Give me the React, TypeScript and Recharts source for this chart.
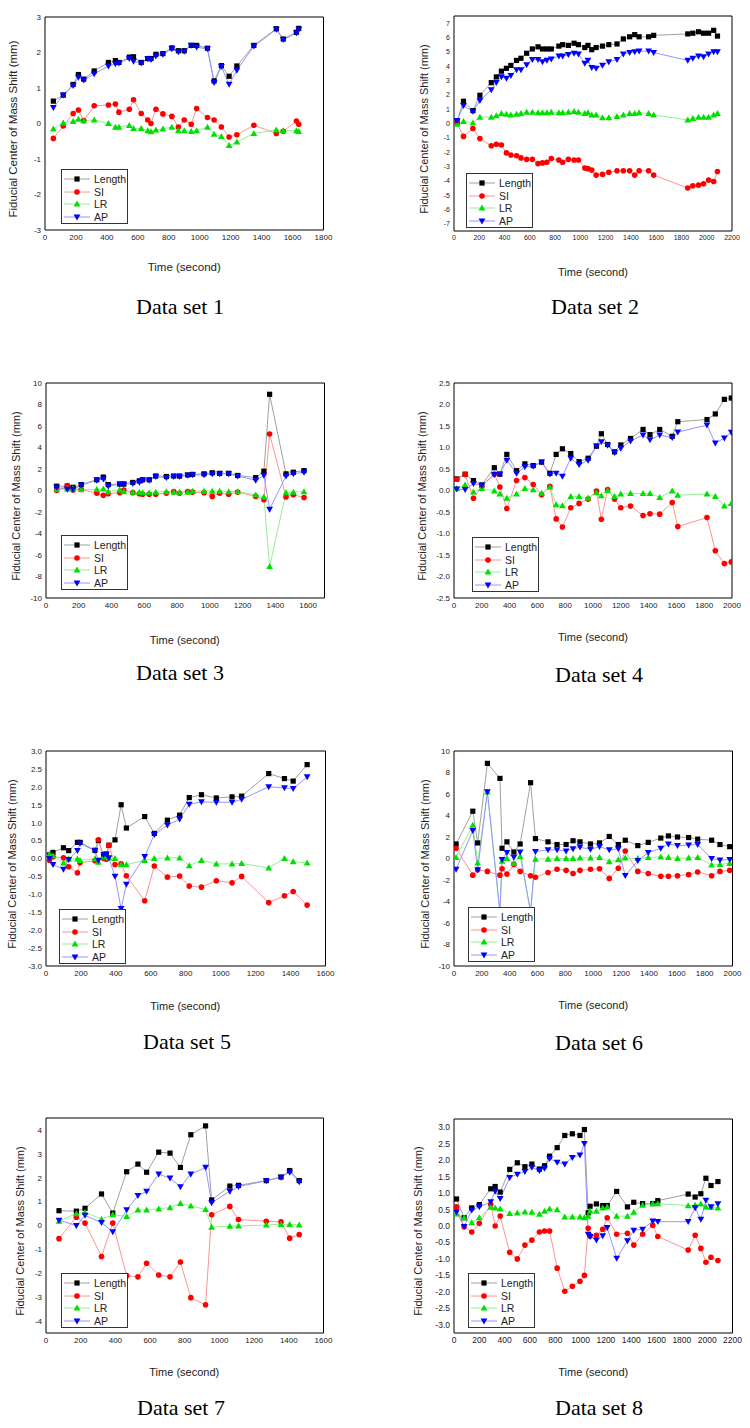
import React from 'react';
import { LineChart, Line, XAxis, YAxis } from 'recharts';

// ---- Data set 1 ----
const time1 = [54, 118, 182, 216, 250, 318, 410, 455, 478, 545, 572, 622, 664, 685, 717, 762, 820, 862, 900, 945, 980, 1050, 1093, 1140, 1190, 1240, 1350, 1495, 1540, 1625, 1640];
const length1 = [0.63, 0.8, 1.1, 1.38, 1.25, 1.48, 1.72, 1.77, 1.72, 1.87, 1.88, 1.72, 1.83, 1.83, 1.95, 1.97, 2.13, 2.05, 2.05, 2.2, 2.2, 2.12, 1.2, 1.63, 1.33, 1.62, 2.2, 2.67, 2.38, 2.57, 2.68];
const si1 = [-0.42, -0.07, 0.28, 0.38, 0.08, 0.5, 0.52, 0.55, 0.32, 0.4, 0.67, 0.28, 0.1, 0.0, 0.4, 0.27, 0.2, -0.1, 0.1, -0.02, 0.42, 0.17, 0.1, -0.1, -0.38, -0.32, -0.05, -0.28, -0.22, 0.07, -0.02];
const lr1 = [-0.15, 0.02, 0.06, 0.12, 0.08, 0.1, 0.0, -0.1, -0.1, -0.05, -0.14, -0.14, -0.2, -0.23, -0.18, -0.15, -0.1, -0.2, -0.2, -0.22, -0.2, -0.1, -0.3, -0.36, -0.62, -0.52, -0.28, -0.18, -0.2, -0.2, -0.22];
const ap1 = [0.45, 0.8, 1.07, 1.3, 1.22, 1.4, 1.62, 1.68, 1.7, 1.83, 1.75, 1.7, 1.82, 1.8, 1.9, 1.95, 2.1, 2.02, 2.03, 2.2, 2.15, 2.1, 1.15, 1.6, 1.1, 1.5, 2.18, 2.65, 2.36, 2.55, 2.65];
const xt1 = [0, 200, 400, 600, 800, 1000, 1200, 1400, 1600, 1800];
const yt1 = [-3, -2, -1, 0, 1, 2, 3];

// ---- Data set 2 ----
const time2 = [25, 75, 150, 205, 295, 335, 375, 415, 450, 495, 530, 575, 620, 665, 700, 735, 770, 830, 860, 905, 950, 985, 1035, 1060, 1090, 1125, 1175, 1225, 1290, 1340, 1390, 1430, 1465, 1540, 1580, 1850, 1890, 1935, 1975, 2015, 2055, 2085];
const length2 = [0.2, 1.55, 0.9, 1.97, 2.85, 3.25, 3.65, 3.85, 4.05, 4.4, 4.55, 4.9, 5.2, 5.35, 5.2, 5.2, 5.2, 5.4, 5.5, 5.45, 5.6, 5.5, 5.3, 5.45, 5.15, 5.3, 5.4, 5.5, 5.55, 5.9, 6.05, 6.2, 6.05, 6.05, 6.15, 6.25, 6.3, 6.4, 6.3, 6.3, 6.5, 6.1];
const si2 = [0.0, -0.9, -0.35, -1.05, -1.55, -1.45, -1.5, -2.05, -2.2, -2.25, -2.4, -2.5, -2.5, -2.8, -2.75, -2.7, -2.45, -2.55, -2.7, -2.5, -2.55, -2.55, -3.1, -3.15, -3.25, -3.6, -3.55, -3.4, -3.3, -3.3, -3.3, -3.6, -3.3, -3.3, -3.6, -4.5, -4.35, -4.3, -4.2, -3.95, -4.05, -3.35];
const lr2 = [-0.05, 0.15, 0.05, 0.45, 0.45, 0.55, 0.7, 0.65, 0.6, 0.65, 0.7, 0.8, 0.8, 0.75, 0.75, 0.75, 0.8, 0.75, 0.75, 0.8, 0.85, 0.8, 0.7, 0.75, 0.6, 0.6, 0.4, 0.4, 0.5, 0.6, 0.7, 0.7, 0.75, 0.7, 0.6, 0.25, 0.35, 0.45, 0.45, 0.45, 0.6, 0.7];
const ap2 = [0.2, 1.25, 0.85, 1.6, 2.35, 2.85, 3.25, 3.15, 3.35, 3.75, 3.75, 4.1, 4.45, 4.45, 4.3, 4.4, 4.5, 4.7, 4.7, 4.8, 4.9, 4.85, 4.2, 4.4, 3.9, 3.85, 4.05, 4.3, 4.45, 4.85, 4.95, 5.0, 5.05, 5.05, 4.95, 4.4, 4.55, 4.7, 4.65, 4.85, 5.0, 5.0];
const xt2 = [0, 200, 400, 600, 800, 1000, 1200, 1400, 1600, 1800, 2000, 2200];
const yt2 = [-7, -6, -5, -4, -3, -2, -1, 0, 1, 2, 3, 4, 5, 6, 7];

// ---- Data set 3 ----
const time3 = [65, 130, 165, 215, 310, 350, 380, 450, 475, 530, 570, 590, 630, 670, 735, 780, 815, 865, 895, 965, 1015, 1060, 1115, 1170, 1280, 1330, 1365, 1465, 1510, 1575];
const length3 = [0.4, 0.4, 0.3, 0.55, 1.0, 1.25, 0.55, 0.6, 0.6, 0.75, 0.9, 1.0, 1.0, 1.35, 1.3, 1.35, 1.35, 1.45, 1.5, 1.55, 1.65, 1.6, 1.6, 1.4, 1.2, 1.8, 8.95, 1.55, 1.7, 1.85];
const si3 = [0.0, 0.45, 0.05, 0.1, -0.25, -0.45, -0.3, -0.2, 0.05, -0.2, -0.3, -0.35, -0.35, -0.35, -0.25, -0.1, -0.25, -0.1, -0.15, -0.2, -0.55, -0.25, -0.35, -0.15, -0.55, -0.85, 5.25, -0.6, -0.4, -0.65];
const lr3 = [0.1, 0.15, 0.2, 0.1, 0.1, 0.15, -0.1, 0.05, -0.1, -0.15, -0.15, -0.2, -0.2, -0.15, -0.1, -0.15, -0.15, -0.15, -0.05, -0.05, -0.05, -0.05, -0.1, -0.1, -0.4, -0.6, -7.05, -0.2, -0.15, -0.1];
const ap3 = [0.3, 0.1, 0.1, 0.5, 0.95, 1.05, 0.4, 0.6, 0.6, 0.65, 0.75, 0.95, 0.95, 1.3, 1.2, 1.3, 1.3, 1.4, 1.45, 1.45, 1.55, 1.55, 1.55, 1.35, 0.95, 1.4, -1.75, 1.35, 1.55, 1.7];
const xt3 = [0, 200, 400, 600, 800, 1000, 1200, 1400, 1600];
const yt3 = [-10, -8, -6, -4, -2, 0, 2, 4, 6, 8, 10];

// ---- Data set 4 ----
const time4 = [20, 80, 140, 200, 290, 330, 380, 450, 510, 570, 630, 690, 735, 780, 840, 900, 965, 1025, 1060, 1105, 1155, 1200, 1270, 1360, 1410, 1480, 1570, 1610, 1820, 1880, 1945, 1995];
const length4 = [0.27, 0.38, 0.23, 0.13, 0.53, 0.38, 0.84, 0.46, 0.62, 0.58, 0.66, 0.4, 0.84, 0.97, 0.86, 0.67, 0.75, 1.03, 1.32, 1.07, 0.9, 1.06, 1.21, 1.42, 1.3, 1.42, 1.26, 1.6, 1.65, 1.78, 2.12, 2.15];
const si4 = [0.26, 0.37, -0.18, 0.1, 0.38, 0.08, -0.42, 0.23, 0.3, 0.14, -0.1, 0.1, -0.66, -0.85, -0.4, -0.3, -0.2, -0.01, -0.67, 0.02, -0.2, -0.4, -0.36, -0.58, -0.54, -0.55, -0.28, -0.84, -0.63, -1.4, -1.7, -1.66];
const lr4 = [0.05, 0.13, -0.03, 0.05, -0.01, -0.08, -0.18, -0.08, 0.05, 0.02, -0.06, 0.08, -0.33, -0.35, -0.14, -0.14, -0.17, -0.05, -0.12, 0.0, -0.14, -0.08, -0.07, -0.07, -0.07, -0.16, -0.01, -0.11, -0.08, -0.14, -0.36, -0.3];
const ap4 = [0.03, 0.02, 0.16, 0.12, 0.37, 0.38, 0.7, 0.4, 0.55, 0.56, 0.66, 0.38, 0.4, 0.33, 0.75, 0.6, 0.7, 1.03, 1.13, 1.05, 0.88, 0.98, 1.15, 1.29, 1.18, 1.29, 1.23, 1.36, 1.52, 1.1, 1.22, 1.35];
const xt4 = [0, 200, 400, 600, 800, 1000, 1200, 1400, 1600, 1800, 2000];
const yt4 = [-2.5, -2, -1.5, -1, -0.5, 0, 0.5, 1, 1.5, 2, 2.5];

// ---- Data set 5 ----
const time5 = [20, 40, 100, 130, 180, 195, 280, 300, 330, 345, 360, 395, 430, 460, 565, 620, 695, 765, 820, 890, 975, 1065, 1120, 1275, 1365, 1415, 1495];
const length5 = [0.1, 0.17, 0.3, 0.22, 0.45, 0.45, 0.23, 0.5, 0.1, 0.12, 0.37, 0.52, 1.5, 0.85, 1.17, 0.7, 1.07, 1.21, 1.7, 1.78, 1.69, 1.72, 1.74, 2.37, 2.23, 2.16, 2.62];
const si5 = [-0.05, 0.05, 0.02, -0.23, -0.4, -0.12, -0.06, 0.52, 0.0, -0.02, 0.37, -0.17, -0.15, -0.48, -1.18, -0.21, -0.52, -0.49, -0.77, -0.8, -0.62, -0.68, -0.5, -1.23, -1.04, -0.92, -1.3];
const lr5 = [0.12, 0.08, -0.12, -0.01, -0.01, -0.05, -0.01, -0.1, 0.05, 0.05, 0.02, 0.0, -0.17, -0.17, -0.05, 0.0, 0.02, 0.02, -0.2, -0.05, -0.15, -0.15, -0.14, -0.26, 0.0, -0.09, -0.12];
const ap5 = [0.0, -0.17, -0.3, -0.03, 0.22, 0.42, 0.22, -0.05, 0.1, 0.12, 0.02, -0.5, -1.4, -0.72, 0.05, 0.67, 0.93, 1.1, 1.51, 1.58, 1.57, 1.57, 1.65, 2.0, 1.97, 1.95, 2.28];
const xt5 = [0, 200, 400, 600, 800, 1000, 1200, 1400, 1600];
const yt5 = [-3, -2.5, -2, -1.5, -1, -0.5, 0, 0.5, 1, 1.5, 2, 2.5, 3];

// ---- Data set 6 ----
const time6 = [15, 135, 170, 240, 330, 345, 380, 430, 475, 550, 585, 675, 740, 805, 855, 905, 980, 1045, 1115, 1180, 1230, 1320, 1395, 1485, 1540, 1605, 1685, 1750, 1850, 1910, 1980];
const length6 = [1.35, 4.4, 1.45, 8.85, 7.45, 0.95, 1.55, 0.6, 1.35, 7.05, 1.85, 1.55, 1.3, 1.3, 1.65, 1.55, 1.35, 1.45, 2.05, 1.3, 1.7, 1.2, 1.5, 1.9, 2.1, 2.0, 1.95, 1.8, 1.7, 1.3, 1.1];
const si6 = [0.95, -1.55, -1.05, -1.2, -1.55, -0.95, -1.45, -0.55, -1.2, -1.6, -1.75, -1.3, -1.0, -1.1, -1.4, -1.1, -1.0, -0.95, -1.85, -0.9, 0.7, -1.2, -1.4, -1.65, -1.65, -1.6, -1.5, -1.25, -1.6, -1.2, -1.1];
const lr6 = [0.1, 3.1, -0.4, 6.2, -5.0, -0.25, 0.0, -0.45, 0.2, -5.0, -0.05, -0.05, 0.0, 0.0, 0.0, 0.05, 0.05, 0.1, -0.3, -0.1, 0.05, 0.0, 0.1, 0.15, 0.1, 0.0, 0.05, 0.1, -0.6, -0.55, -0.45];
const ap6 = [-1.0, 2.6, -1.05, 6.2, -5.0, -0.1, 0.55, 0.1, 0.6, -5.0, 0.65, 0.8, 0.8, 0.7, 0.9, 1.05, 0.85, 1.1, 0.8, 0.9, -1.6, -0.2, 0.55, 0.95, 1.35, 1.2, 1.25, 1.3, 0.0, -0.15, -0.1];
const xt6 = [0, 200, 400, 600, 800, 1000, 1200, 1400, 1600, 1800, 2000];
const yt6 = [-10, -8, -6, -4, -2, 0, 2, 4, 6, 8, 10];

// ---- Data set 7 ----
const time7 = [75, 175, 225, 320, 385, 465, 530, 580, 650, 715, 775, 835, 920, 955, 1060, 1110, 1270, 1355, 1405, 1460];
const length7 = [0.62, 0.6, 0.72, 1.32, 0.52, 2.25, 2.57, 2.23, 3.07, 3.03, 2.43, 3.8, 4.17, 1.07, 1.65, 1.68, 1.88, 2.03, 2.3, 1.88];
const si7 = [-0.55, 0.35, 0.1, -1.3, 0.1, -2.1, -2.15, -1.58, -2.07, -2.15, -1.53, -3.02, -3.32, 0.45, 0.8, 0.25, 0.18, 0.15, -0.53, -0.38];
const lr7 = [0.18, 0.5, 0.55, 0.27, 0.45, 0.38, 0.65, 0.65, 0.7, 0.75, 0.93, 0.82, 0.67, -0.07, -0.03, -0.02, 0.02, 0.05, 0.05, 0.02];
const ap7 = [0.22, 0.0, 0.42, 0.12, -0.27, 0.65, 1.25, 1.43, 2.15, 1.98, 1.62, 2.15, 2.43, 0.95, 1.43, 1.63, 1.87, 2.02, 2.23, 1.83];
const xt7 = [0, 200, 400, 600, 800, 1000, 1200, 1400, 1600];
const yt7 = [-4, -3, -2, -1, 0, 1, 2, 3, 4];

// ---- Data set 8 ----
const time8 = [20, 80, 140, 200, 290, 325, 365, 440, 500, 560, 615, 675, 715, 755, 815, 875, 935, 995, 1030, 1060, 1075, 1125, 1175, 1210, 1285, 1370, 1420, 1490, 1570, 1610, 1850, 1905, 1950, 1990, 2030, 2085];
const length8 = [0.82, 0.25, 0.55, 0.65, 1.13, 1.2, 1.03, 1.72, 1.92, 1.8, 1.88, 1.73, 1.83, 2.12, 2.38, 2.75, 2.8, 2.75, 2.93, 0.4, 0.6, 0.67, 0.62, 0.62, 1.05, 0.58, 0.72, 0.68, 0.68, 0.77, 0.97, 0.88, 0.98, 1.45, 1.23, 1.35];
const si8 = [0.58, -0.02, -0.18, 0.08, 0.65, 0.0, 0.3, -0.8, -1.0, -0.58, -0.43, -0.18, -0.15, -0.15, -1.28, -1.98, -1.83, -1.68, -1.5, -0.07, -0.3, -0.28, -0.1, 0.25, -0.25, -0.22, -0.58, -0.25, 0.02, -0.32, -0.73, -0.28, -0.68, -1.1, -0.95, -1.05];
const lr8 = [0.37, 0.25, 0.1, 0.25, 0.57, 0.55, 0.52, 0.38, 0.4, 0.43, 0.42, 0.36, 0.45, 0.52, 0.5, 0.28, 0.28, 0.28, 0.25, 0.3, 0.45, 0.45, 0.55, 0.58, 0.3, 0.3, 0.42, 0.63, 0.68, 0.68, 0.62, 0.63, 0.67, 0.58, 0.57, 0.55];
const ap8 = [0.43, -0.02, 0.48, 0.58, 0.73, 1.05, 0.83, 1.47, 1.57, 1.65, 1.78, 1.68, 1.75, 2.05, 1.93, 1.88, 2.08, 2.15, 2.5, -0.25, -0.32, -0.43, -0.3, -0.05, -0.98, -0.45, -0.13, -0.1, 0.15, 0.13, 0.13, 0.55, 0.2, 0.78, 0.58, 0.67];
const xt8 = [0, 200, 400, 600, 800, 1000, 1200, 1400, 1600, 1800, 2000, 2200];
const yt8 = [-3, -2.5, -2, -1.5, -1, -0.5, 0, 0.5, 1, 1.5, 2, 2.5, 3];

const SANS = '"Liberation Sans", Arial, sans-serif';
const SERIF = '"Liberation Serif", "Times New Roman", serif';

const SERIES = [
  { key: 'Length', line: '#a0a0a0', mark: '#000000', shape: 'square' },
  { key: 'SI', line: '#ff9494', mark: '#ff0000', shape: 'circle' },
  { key: 'LR', line: '#94ef94', mark: '#00e000', shape: 'up' },
  { key: 'AP', line: '#9494ff', mark: '#0000ff', shape: 'down' },
];

// box positions are page coordinates of the plot frame
const PANELS = [
  { n: 1, t: time1, len: length1, si: si1, lr: lr1, ap: ap1, xTicks: xt1, yTicks: yt1, xDomain: [0, 1800], yDomain: [-3, 3], dec: 0,
    left: 45, top: 17, w: 278.5, h: 223, tickFont: 8, titleFont: 11.5, yTitleX: 13, xTitleDy: 27, legend: [61, 169], caption: [180, 307] },
  { n: 2, t: time2, len: length2, si: si2, lr: lr2, ap: ap2, xTicks: xt2, yTicks: yt2, xDomain: [0, 2200], yDomain: [-7.5, 7.5], dec: 0,
    left: 454, top: 16, w: 278, h: 225, tickFont: 7, titleFont: 11, yTitleX: 424, xTitleDy: 31, legend: [466, 173], caption: [595, 307] },
  { n: 3, t: time3, len: length3, si: si3, lr: lr3, ap: ap3, xTicks: xt3, yTicks: yt3, xDomain: [0, 1700], yDomain: [-10, 10], dec: 0,
    left: 45.5, top: 383, w: 278.5, h: 225, tickFont: 8, titleFont: 11, yTitleX: 16, xTitleDy: 32, legend: [61, 535], caption: [180, 673] },
  { n: 4, t: time4, len: length4, si: si4, lr: lr4, ap: ap4, xTicks: xt4, yTicks: yt4, xDomain: [0, 2000], yDomain: [-2.5, 2.5], dec: 1,
    left: 454, top: 383, w: 278, h: 225, tickFont: 8, titleFont: 11, yTitleX: 422, xTitleDy: 29, legend: [472, 537], caption: [599, 675] },
  { n: 5, t: time5, len: length5, si: si5, lr: lr5, ap: ap5, xTicks: xt5, yTicks: yt5, xDomain: [0, 1600], yDomain: [-3, 3], dec: 1,
    left: 45.5, top: 751, w: 279.5, h: 225, tickFont: 8, titleFont: 11, yTitleX: 12, xTitleDy: 30, legend: [59, 909], caption: [187, 1042] },
  { n: 6, t: time6, len: length6, si: si6, lr: lr6, ap: ap6, xTicks: xt6, yTicks: yt6, xDomain: [0, 2000], yDomain: [-10, 10], dec: 0,
    left: 454, top: 751, w: 278.5, h: 225, tickFont: 8, titleFont: 11, yTitleX: 425, xTitleDy: 29, legend: [468, 907], caption: [599, 1043] },
  { n: 7, t: time7, len: length7, si: si7, lr: lr7, ap: ap7, xTicks: xt7, yTicks: yt7, xDomain: [0, 1600], yDomain: [-4.5, 4.5], dec: 0,
    left: 45.5, top: 1118, w: 277.5, h: 225, tickFont: 8, titleFont: 11, yTitleX: 20, xTitleDy: 29, legend: [61, 1273], caption: [181, 1408] },
  { n: 8, t: time8, len: length8, si: si8, lr: lr8, ap: ap8, xTicks: xt8, yTicks: yt8, xDomain: [0, 2200], yDomain: [-3.25, 3.25], dec: 1,
    left: 454, top: 1119, w: 278.5, h: 224, tickFont: 8.5, titleFont: 11, yTitleX: 418, xTitleDy: 29, legend: [468, 1273], caption: [599, 1408] },
];

function minorTicks(ticks: number[], domain: number[]) {
  const step = ticks[1] - ticks[0];
  const out: number[] = [];
  for (let v = ticks[0] - step / 2; v <= domain[1] + 1e-9; v += step) {
    if (v >= domain[0] - 1e-9) out.push(+v.toFixed(4));
  }
  return out;
}

function Marker({ shape, color, cx, cy }: any) {
  if (cx == null || cy == null || isNaN(cx) || isNaN(cy)) return null;
  if (shape === 'square') return <rect x={cx - 2.6} y={cy - 2.6} width={5.2} height={5.2} fill={color} />;
  if (shape === 'circle') return <circle cx={cx} cy={cy} r={2.8} fill={color} />;
  if (shape === 'up')
    return <polygon points={`${cx},${cy - 3.4} ${cx - 3.4},${cy + 2.6} ${cx + 3.4},${cy + 2.6}`} fill={color} />;
  return <polygon points={`${cx},${cy + 3.4} ${cx - 3.4},${cy - 2.6} ${cx + 3.4},${cy - 2.6}`} fill={color} />;
}

// tiny non-zero size: a zero-sized axis is not drawn at all
const THIN = 0.01;

function Panel({ p }: any) {
  const data = p.t.map((t: number, i: number) => ({ t, Length: p.len[i], SI: p.si[i], LR: p.lr[i], AP: p.ap[i] }));
  const W = p.w + 75;
  const H = p.h + 55;
  const xMinor = minorTicks(p.xTicks, p.xDomain);
  const yMinor = minorTicks(p.yTicks, p.yDomain);
  const fmtY = (v: number) => (p.dec ? v.toFixed(p.dec) : String(v));
  const tickStyle = { fontSize: p.tickFont, fill: '#222', fontFamily: SANS };
  const frame = { stroke: '#000', strokeWidth: 1 };

  return (
    <>
      <div style={{ position: 'absolute', left: p.left - 60, top: p.top - 10 }}>
        <LineChart width={W} height={H} data={data} margin={{ top: 10, right: 15, bottom: 10, left: 20 }}>
          {/* labelled axes */}
          <XAxis xAxisId="b" dataKey="t" type="number" domain={p.xDomain} ticks={p.xTicks} interval={0} allowDataOverflow
            height={45} tickLine={false} tickSize={0} tickMargin={4} axisLine={frame} tick={tickStyle} />
          <YAxis yAxisId="l" type="number" domain={p.yDomain} ticks={p.yTicks} interval={0} allowDataOverflow
            width={40} tickLine={false} tickSize={0} tickMargin={4} axisLine={frame} tick={tickStyle} tickFormatter={fmtY} />
          {/* inward major / minor ticks on all four sides, plus top and right frame */}
          <XAxis xAxisId="bM" type="number" domain={p.xDomain} ticks={p.xTicks} interval={0} mirror height={THIN}
            tick={false} tickSize={4} axisLine={false} tickLine={frame} />
          <XAxis xAxisId="bm" type="number" domain={p.xDomain} ticks={xMinor} interval={0} mirror height={THIN}
            tick={false} tickSize={2} axisLine={false} tickLine={frame} />
          <XAxis xAxisId="tM" orientation="top" type="number" domain={p.xDomain} ticks={p.xTicks} interval={0} mirror height={THIN}
            tick={false} tickSize={4} axisLine={frame} tickLine={frame} />
          <XAxis xAxisId="tm" orientation="top" type="number" domain={p.xDomain} ticks={xMinor} interval={0} mirror height={THIN}
            tick={false} tickSize={2} axisLine={false} tickLine={frame} />
          <YAxis yAxisId="lM" type="number" domain={p.yDomain} ticks={p.yTicks} interval={0} mirror width={THIN}
            tick={false} tickSize={4} axisLine={false} tickLine={frame} />
          <YAxis yAxisId="lm" type="number" domain={p.yDomain} ticks={yMinor} interval={0} mirror width={THIN}
            tick={false} tickSize={2} axisLine={false} tickLine={frame} />
          <YAxis yAxisId="rM" orientation="right" type="number" domain={p.yDomain} ticks={p.yTicks} interval={0} mirror width={THIN}
            tick={false} tickSize={4} axisLine={frame} tickLine={frame} />
          <YAxis yAxisId="rm" orientation="right" type="number" domain={p.yDomain} ticks={yMinor} interval={0} mirror width={THIN}
            tick={false} tickSize={2} axisLine={false} tickLine={frame} />
          {SERIES.map((s) => (
            <Line
              key={s.key}
              xAxisId="b"
              yAxisId="l"
              type="linear"
              dataKey={s.key}
              stroke={s.line}
              strokeWidth={1}
              activeDot={false}
              isAnimationActive={false}
              dot={(dp: any) => <Marker key={`${s.key}-${dp.index}`} shape={s.shape} color={s.mark} cx={dp.cx} cy={dp.cy} />}
            />
          ))}
        </LineChart>
      </div>

      {/* axis titles */}
      <div style={{ position: 'absolute', left: p.yTitleX, top: p.top + p.h / 2, transform: 'translate(-50%, -50%) rotate(-90deg)',
        whiteSpace: 'nowrap', fontFamily: SANS, fontSize: p.titleFont, color: '#222' }}>
        Fiducial Center of Mass Shift (mm)
      </div>
      <div style={{ position: 'absolute', left: p.left + p.w / 2, top: p.top + p.h + p.xTitleDy, transform: 'translate(-50%, -50%)',
        whiteSpace: 'nowrap', fontFamily: SANS, fontSize: p.titleFont, color: '#222' }}>
        Time (second)
      </div>

      {/* legend */}
      <div style={{ position: 'absolute', left: p.legend[0], top: p.legend[1], width: 67, height: 55, boxSizing: 'border-box',
        border: '1px solid #333', background: '#fff', paddingTop: 3 }}>
        {SERIES.map((s) => (
          <div key={s.key} style={{ display: 'flex', alignItems: 'center', height: 12.5 }}>
            <svg width={28} height={10} style={{ marginLeft: 1, flex: 'none' }}>
              <line x1={1} y1={5} x2={27} y2={5} stroke={s.line} strokeWidth={1} />
              <Marker shape={s.shape} color={s.mark} cx={14} cy={5} />
            </svg>
            <span style={{ fontFamily: SANS, fontSize: 10.5, color: '#222', marginLeft: 3, lineHeight: '12px' }}>{s.key}</span>
          </div>
        ))}
      </div>

      {/* caption */}
      <div style={{ position: 'absolute', left: p.caption[0], top: p.caption[1], transform: 'translate(-50%, -50%)',
        whiteSpace: 'nowrap', fontFamily: SERIF, fontSize: 22, color: '#000' }}>
        Data set {p.n}
      </div>
    </>
  );
}

export default function App() {
  return (
    <div style={{ position: 'absolute', left: 0, top: 0, width: 750, height: 1428, background: '#fff', overflow: 'hidden' }}>
      {PANELS.map((p) => (
        <Panel key={p.n} p={p} />
      ))}
    </div>
  );
}
